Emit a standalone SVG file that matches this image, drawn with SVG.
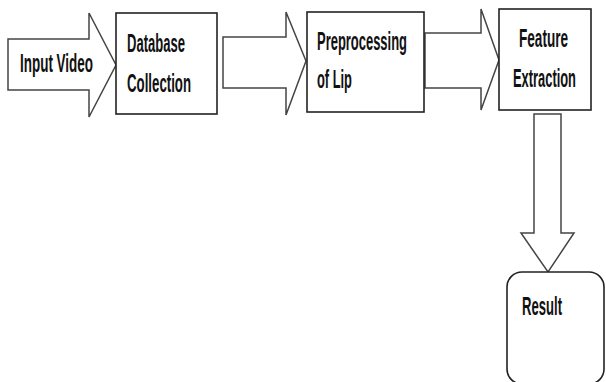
<svg xmlns="http://www.w3.org/2000/svg" width="606" height="382" viewBox="0 0 606 382">
<style>
.box{fill:#fff;stroke:#222;stroke-width:1.6}
.arr{fill:#fff;stroke:#444;stroke-width:1.5;stroke-linejoin:miter}
.t{font-family:"Liberation Sans",Arial,sans-serif;font-size:25px;font-weight:bold;fill:#111;}
</style>
<rect width="606" height="382" fill="#fff"/>
<g id="connectors">
<polygon class="arr" points="223,37 286,37 286,12 306,61 286,115 286,88 223,88"/>
<polygon class="arr" points="425,33 481,33 481,9 499,60 481,110 481,88 425,88"/>
<polygon class="arr" points="534,114 561,114 561,233 574,233 548,272 521,233 534,233"/>
</g>
<g id="input-video">
<polygon class="arr" points="8,39 89,39 89,13 116,65 89,117 89,90 8,90"/>
<text class="t" transform="translate(20,72) scale(0.6,1)" textLength="121.7" lengthAdjust="spacingAndGlyphs">Input Video</text>
</g>
<g id="database-collection">
<rect class="box" x="116" y="13" width="101" height="101"/>
<text class="t" transform="translate(127,52) scale(0.6,1)" textLength="96.7" lengthAdjust="spacingAndGlyphs">Database</text>
<text class="t" transform="translate(127,92) scale(0.6,1)" textLength="106.7" lengthAdjust="spacingAndGlyphs">Collection</text>
</g>
<g id="preprocessing">
<rect class="box" x="307" y="12" width="117" height="100"/>
<text class="t" transform="translate(317,50) scale(0.6,1)" textLength="150" lengthAdjust="spacingAndGlyphs">Preprocessing</text>
<text class="t" transform="translate(317,88) scale(0.6,1)" textLength="58.3" lengthAdjust="spacingAndGlyphs">of Lip</text>
</g>
<g id="feature-extraction">
<rect class="box" x="499" y="9" width="92" height="101"/>
<text class="t" transform="translate(519,47) scale(0.6,1)" textLength="81.7" lengthAdjust="spacingAndGlyphs">Feature</text>
<text class="t" transform="translate(513,87) scale(0.6,1)" textLength="105" lengthAdjust="spacingAndGlyphs">Extraction</text>
</g>
<g id="result">
<rect class="box" x="507" y="272" width="97" height="112" rx="15" ry="15"/>
<text class="t" transform="translate(522,315) scale(0.6,1)" textLength="66.7" lengthAdjust="spacingAndGlyphs">Result</text>
</g>
</svg>
